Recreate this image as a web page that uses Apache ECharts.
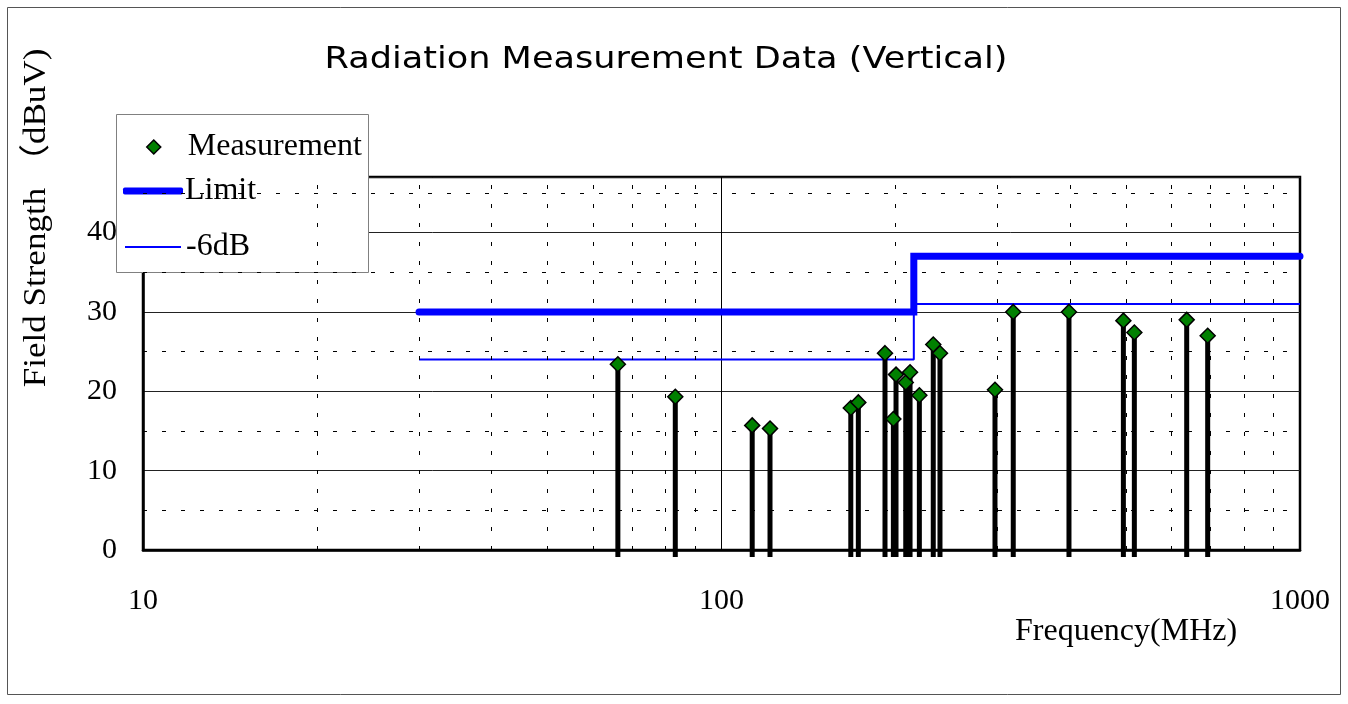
<!DOCTYPE html>
<html>
<head>
<meta charset="utf-8">
<title>Radiation Measurement Data (Vertical)</title>
<script src="https://cdn.jsdelivr.net/npm/echarts@6/dist/echarts.min.js"></script>
<style>
  html, body { margin: 0; padding: 0; background: #fff; }
  #chart { width: 1348px; height: 704px; }
</style>
</head>
<body>
<div id="chart"></div>
<script>
// 测量数据 (MHz / dBuV)
const measFreq = [66.2, 83.2, 113.0, 121.3, 167.3, 172.4, 191.7, 198.2, 200.3, 208.2, 211.8,
  219.8, 232.3, 238.6, 297.0, 319.4, 398.7, 495.1, 517.2, 637.0, 692.5];
const measLevel = [23.4, 19.3, 15.7, 15.3, 17.9, 18.6, 24.8, 16.5, 22.1, 21.1, 22.4,
  19.5, 25.9, 24.8, 20.2, 30.0, 30.0, 28.9, 27.4, 29.0, 27.0];

// 限值线
const limitFreq = [30, 215, 215, 1000];
const limitLevel = [30, 30, 37, 37];
const marginLevel = [24, 24, 31, 31];

// 刻度
const xTicks = [10, 100, 1000];
const yTicks = [0, 10, 20, 30, 40];
const minorFreq = [20, 30, 40, 50, 60, 70, 80, 90, 200, 300, 400, 500, 600, 700, 800, 900];
const minorLevel = [5, 15, 25, 35, 45];

const serif = '"Liberation Serif", "Noto Sans CJK SC", serif';

const measData = measFreq.map((f, i) => [f, measLevel[i]]);
const limitData = limitFreq.map((f, i) => [f, limitLevel[i]]);
const marginData = limitFreq.map((f, i) => [f, marginLevel[i]]);

const chart = echarts.init(document.getElementById('chart'));

const dashStyle = { color: '#000', width: 1, type: [4, 15] };
const legendText = { fontFamily: serif, fontSize: 32, lineHeight: 30, color: '#000' };

const option = {
  backgroundColor: '#fff',
  animation: false,
  legend: [
    {
      data: [{ name: 'Measurement', icon: 'diamond' }],
      left: 146, top: 131, padding: 0,
      itemWidth: 14, itemHeight: 14,
      itemStyle: { borderColor: '#000', borderWidth: 1.5 },
      textStyle: Object.assign({ padding: [0, 0, 0, 22] }, legendText)
    },
    {
      data: [{ name: 'Limit', icon: 'roundRect' }],
      left: 123, top: 175, padding: 0,
      itemWidth: 60, itemHeight: 7,
      textStyle: Object.assign({ padding: [0, 0, 0, -3] }, legendText)
    },
    {
      data: [{ name: '-6dB', icon: 'rect' }],
      left: 125, top: 231, padding: 0,
      itemWidth: 56, itemHeight: 2,
      textStyle: legendText
    }
  ],
  grid: {
    left: 143, right: 48, top: 177, bottom: 154,
    show: true, borderColor: '#000', borderWidth: 2.5, backgroundColor: '#fff'
  },
  xAxis: {
    type: 'log',
    logBase: 10,
    min: xTicks[0],
    max: xTicks[xTicks.length - 1],
    axisLine: { lineStyle: { color: '#000', width: 2.5 } },
    axisTick: { show: false },
    axisLabel: {
      color: '#000', fontFamily: serif, fontSize: 30, margin: 36,
      formatter: v => (xTicks.indexOf(v) >= 0 ? String(v) : '')
    },
    splitLine: { show: true, lineStyle: { color: '#000', width: 1 } }
  },
  yAxis: {
    type: 'value',
    min: 0,
    max: 47,
    interval: 10,
    axisLine: { show: true, lineStyle: { color: '#000', width: 2.5 } },
    axisTick: { show: false },
    axisLabel: {
      color: '#000', fontFamily: serif, fontSize: 30, margin: 26,
      formatter: v => (yTicks.indexOf(v) >= 0 ? String(v) : '')
    },
    splitLine: { show: true, lineStyle: { color: '#222', width: 1 } }
  },
  graphic: [
    {
      type: 'rect', z: -10, silent: true,
      shape: { x: 7.5, y: 7.5, width: 1333, height: 687 },
      style: { fill: null, stroke: '#555', lineWidth: 1 }
    },
    {
      type: 'rect', z: 3, silent: true,
      shape: { x: 116.5, y: 114.5, width: 252, height: 158 },
      style: { fill: '#fff', stroke: '#808080', lineWidth: 1 }
    },
    {
      type: 'text', silent: true,
      x: 666, y: 60, scaleX: 1.17,
      style: {
        text: 'Radiation Measurement Data (Vertical)',
        fill: '#000', font: '30px "DejaVu Sans", sans-serif',
        textAlign: 'center', textVerticalAlign: 'middle'
      }
    },
    {
      type: 'text', silent: true,
      x: 37, y: 218, rotation: Math.PI / 2, scaleX: 1.13,
      style: {
        text: 'Field Strength （dBuV)',
        fill: '#000', font: '31px ' + serif,
        textAlign: 'center', textVerticalAlign: 'middle'
      }
    },
    {
      type: 'text', silent: true,
      x: 1015, y: 632,
      style: {
        text: 'Frequency(MHz)',
        fill: '#000', font: '32px ' + serif,
        textAlign: 'left', textVerticalAlign: 'middle'
      }
    }
  ],
  series: [
    {
      name: 'grid-minor',
      type: 'line',
      data: [],
      silent: true,
      markLine: {
        silent: true,
        symbol: ['none', 'none'],
        label: { show: false },
        lineStyle: dashStyle,
        data: minorFreq.map(f => ({ xAxis: f })).concat(minorLevel.map(v => ({ yAxis: v })))
      }
    },
    {
      name: 'Limit',
      type: 'line',
      data: limitData,
      symbol: 'none',
      z: 3,
      color: '#0000ff',
      lineStyle: { color: '#0000ff', width: 7, cap: 'round', join: 'miter' }
    },
    {
      name: '-6dB',
      type: 'line',
      data: marginData,
      symbol: 'none',
      z: 3,
      color: '#0000ff',
      lineStyle: { color: '#0000ff', width: 2 }
    },
    {
      name: 'stems',
      type: 'custom',
      data: measData,
      encode: { x: 0, y: 1 },
      z: 4,
      clip: false,
      renderItem: function (params, api) {
        const top = api.coord([api.value(0), api.value(1)]);
        const base = api.coord([api.value(0), 0]);
        return {
          type: 'line',
          shape: { x1: top[0], y1: top[1], x2: base[0], y2: base[1] + 7 },
          style: { stroke: '#000', lineWidth: 5 }
        };
      }
    },
    {
      name: 'Measurement',
      type: 'scatter',
      data: measData,
      symbol: 'diamond',
      symbolSize: 15,
      z: 5,
      itemStyle: { color: '#008000', borderColor: '#000', borderWidth: 1.5, opacity: 1 }
    }
  ]
};

chart.setOption(option);
</script>
</body>
</html>
